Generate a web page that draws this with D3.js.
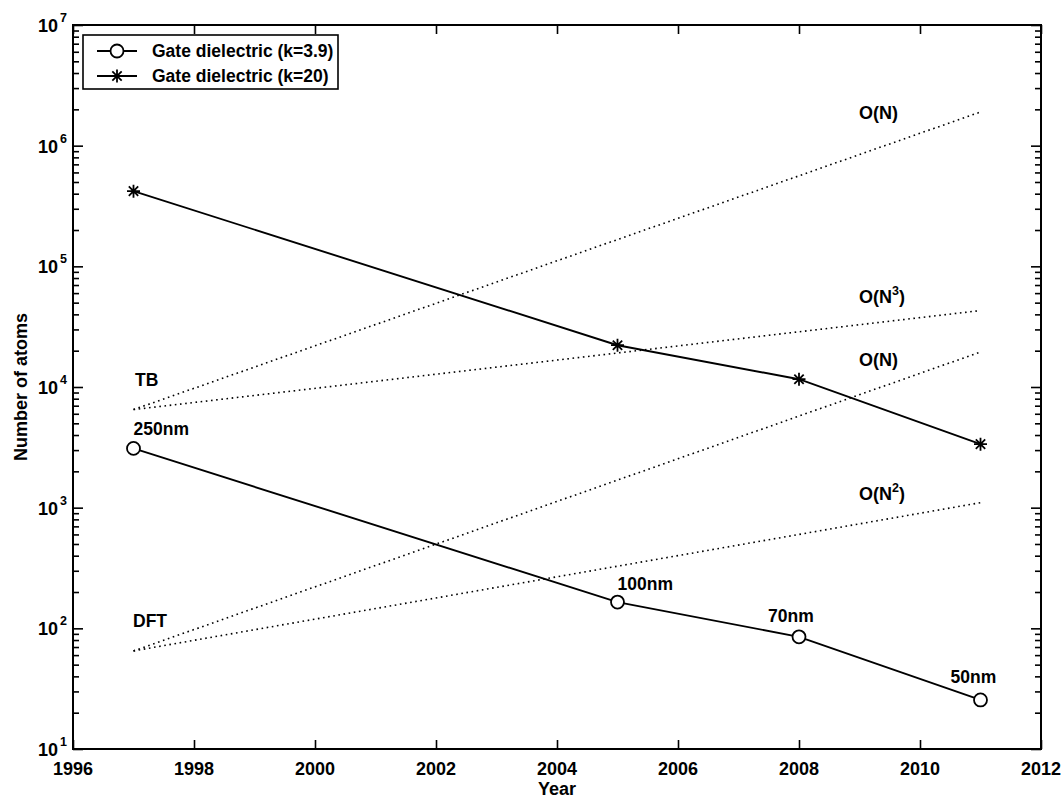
<!DOCTYPE html>
<html><head><meta charset="utf-8">
<script src="https://cdn.jsdelivr.net/npm/d3@7"></script>
<style>
body{margin:0;background:#fff}
text{font-family:"Liberation Sans",Arial,Helvetica,sans-serif;font-weight:bold;fill:#000}
</style>
</head><body><svg id="c" width="1063" height="799"></svg>
<script>
// ---- data ----
const years = [1997, 2005, 2008, 2011];
const atomsK39 = [3100, 165, 85, 25.5];
const atomsK20 = [420000, 22200, 11600, 3360];
const nodeLabels = ["250nm", "100nm", "70nm", "50nm"];
const scalingYears = [1997, 2011];
const tbON = [6500, 1.9e6];
const tbON3 = [6500, 43000];
const dftON = [65, 19500];
const dftON2 = [65, 1100];
const xTickValues = [1996, 1998, 2000, 2002, 2004, 2006, 2008, 2010, 2012];
const yTickExps = [1, 2, 3, 4, 5, 6, 7];
const seriesNames = ["Gate dielectric (k=3.9)", "Gate dielectric (k=20)"];

// ---- layout ----
const L = 73, R = 1041, T = 25, B = 749;
const svg = d3.select("#c");
const x = d3.scaleLinear().domain([1996, 2012]).range([L, R]);
const y = d3.scaleLog().domain([10, 1e7]).range([B, T]);

// minor log ticks
const minor = [];
for (let e = 1; e < 7; e++) for (let m = 2; m <= 9; m++) minor.push(m * Math.pow(10, e));
const major = yTickExps.map(e => Math.pow(10, e));

const g = svg.append("g");
// frame
g.append("rect").attr("x", L).attr("y", T).attr("width", R - L).attr("height", B - T)
  .attr("fill", "none").attr("stroke", "#000").attr("stroke-width", 2);

// axes via d3 axis with inward ticks
const axB = d3.axisBottom(x).tickValues(xTickValues).tickSize(-9).tickFormat("");
const axT = d3.axisTop(x).tickValues(xTickValues).tickSize(-9).tickFormat("");
const axLmaj = d3.axisLeft(y).tickValues(major).tickSize(-10).tickFormat("");
const axLmin = d3.axisLeft(y).tickValues(minor).tickSize(-6).tickFormat("");
const axRmaj = d3.axisRight(y).tickValues(major).tickSize(-10).tickFormat("");
const axRmin = d3.axisRight(y).tickValues(minor).tickSize(-6).tickFormat("");
function styleAx(sel) { sel.select(".domain").remove(); sel.selectAll("line").attr("stroke", "#000").attr("stroke-width", 1.6); }
g.append("g").attr("transform", `translate(0,${B})`).call(axB).call(styleAx);
g.append("g").attr("transform", `translate(0,${T})`).call(axT).call(styleAx);
g.append("g").attr("transform", `translate(${L},0)`).call(axLmaj).call(styleAx);
g.append("g").attr("transform", `translate(${L},0)`).call(axLmin).call(styleAx);
g.append("g").attr("transform", `translate(${R},0)`).call(axRmaj).call(styleAx);
g.append("g").attr("transform", `translate(${R},0)`).call(axRmin).call(styleAx);

// tick labels
g.selectAll(".xl").data(xTickValues).enter().append("text")
  .attr("x", d => x(d)).attr("y", B + 26).attr("text-anchor", "middle")
  .attr("font-size", 18).text(d => d);
yTickExps.forEach(e => {
  const t = g.append("text").attr("x", 58).attr("y", y(Math.pow(10, e)) + 7)
    .attr("text-anchor", "end").attr("font-size", 18).text("10");
  g.append("text").attr("x", 60).attr("y", y(Math.pow(10, e)) - 3)
    .attr("font-size", 12.5).text(e);
});

// axis titles
g.append("text").attr("x", (L + R) / 2).attr("y", 795).attr("text-anchor", "middle")
  .attr("font-size", 18).text("Year");
g.append("text").attr("transform", `translate(27,${(T + B) / 2}) rotate(-90)`)
  .attr("text-anchor", "middle").attr("font-size", 18).text("Number of atoms");

// dotted scaling lines
const line = d3.line().x(d => x(d[0])).y(d => y(d[1]));
[tbON, tbON3, dftON, dftON2].forEach(vals => {
  g.append("path").datum(scalingYears.map((yr, i) => [yr, vals[i]]))
    .attr("d", line).attr("fill", "none").attr("stroke", "#000")
    .attr("stroke-width", 1.6).attr("stroke-dasharray", "1.6,3.6");
});

// solid series
const s39 = years.map((yr, i) => [yr, atomsK39[i]]);
const s20 = years.map((yr, i) => [yr, atomsK20[i]]);
[s39, s20].forEach(s => {
  g.append("path").datum(s).attr("d", line).attr("fill", "none")
    .attr("stroke", "#000").attr("stroke-width", 1.9);
});

function circleMarker(sel, cx, cy) {
  sel.append("circle").attr("cx", cx).attr("cy", cy).attr("r", 6.5)
    .attr("fill", "#fff").attr("stroke", "#000").attr("stroke-width", 1.8);
}
function starMarker(sel, cx, cy) {
  const r = 6.5, d = r * 0.72;
  const p = `M${cx - r},${cy}H${cx + r}M${cx},${cy - r}V${cy + r}M${cx - d},${cy - d}L${cx + d},${cy + d}M${cx - d},${cy + d}L${cx + d},${cy - d}`;
  sel.append("path").attr("d", p).attr("stroke", "#000").attr("stroke-width", 1.8).attr("fill", "none");
}
s39.forEach(d => circleMarker(g, x(d[0]), y(d[1])));
s20.forEach(d => starMarker(g, x(d[0]), y(d[1])));

// node labels
const ndx = [0, 0, -31, -30], ndy = [-13, -12, -15, -17];
s39.forEach((d, i) => {
  g.append("text").attr("x", x(d[0]) + ndx[i]).attr("y", y(d[1]) + ndy[i])
    .attr("font-size", 17.5).text(nodeLabels[i]);
});

// scaling labels
g.append("text").attr("x", 135).attr("y", 386).attr("font-size", 17.5).text("TB");
g.append("text").attr("x", 133).attr("y", 627).attr("font-size", 17.5).text("DFT");
function oLabel(yy, exp) {
  const t = g.append("text").attr("x", 859).attr("y", yy).attr("font-size", 18);
  t.append("tspan").text("O(N");
  if (exp) {
    t.append("tspan").attr("dy", -8).attr("font-size", 12.5).text(exp);
    t.append("tspan").attr("dy", 8).text(")");
  } else t.append("tspan").text(")");
}
oLabel(119, null);
oLabel(303, "3");
oLabel(366, null);
oLabel(500, "2");

// legend
const lg = g.append("g");
lg.append("rect").attr("x", 83).attr("y", 35).attr("width", 255).attr("height", 54)
  .attr("fill", "#fff").attr("stroke", "#000").attr("stroke-width", 1.6);
[51, 76].forEach((ry, i) => {
  lg.append("line").attr("x1", 97).attr("x2", 137).attr("y1", ry).attr("y2", ry)
    .attr("stroke", "#000").attr("stroke-width", 1.9);
  if (i === 0) circleMarker(lg, 117, ry); else starMarker(lg, 117, ry);
  lg.append("text").attr("x", 152).attr("y", ry + 6).attr("font-size", 17.5).text(seriesNames[i]);
});
</script>
</body></html>
